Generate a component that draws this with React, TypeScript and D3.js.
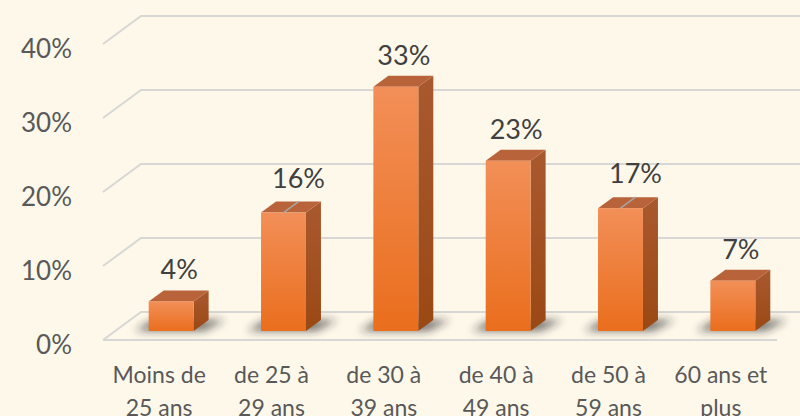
import React from "react";
import * as d3 from "d3";

const categories = [
  ["Moins de", "25 ans"],
  ["de 25 à", "29 ans"],
  ["de 30 à", "39 ans"],
  ["de 40 à", "49 ans"],
  ["de 50 à", "59 ans"],
  ["60 ans et", "plus"],
];
const values = [0.04, 0.16, 0.33, 0.23, 0.166, 0.068];
const yTicks = [0, 0.1, 0.2, 0.3, 0.4];
// bars whose label sits on a leader line
const leaderIdx = [1, 4];

const W = 800;
const H = 416;
// back wall plane
const backLeft = 141;
const backRight = 815;
// offset from back wall to front of floor
const depthX = -38;
const depthY = 28;
// bar front / back planes (offset from back wall)
const barFrontX = -26;
const barFrontY = 19;
const barBackX = -11;
const barBackY = 8;

const font = "Lato, 'Open Sans', sans-serif";

const App = () => {
  const y = d3.scaleLinear().domain([0, 0.4]).range([312, 16]);
  const x = d3
    .scaleBand<number>()
    .domain(d3.range(categories.length))
    .range([backLeft, backRight])
    .paddingInner(0.6)
    .paddingOuter(0.3);
  const fmt = d3.format(".0%");
  const bw = x.bandwidth();

  return (
    <svg
      width={W}
      height={H}
      style={{ position: "absolute", left: 0, top: 0, display: "block" }}
    >
      <defs>
        <linearGradient id="front" x1="0" y1="0" x2="0" y2="1">
          <stop offset="0%" stopColor="#F28F58" />
          <stop offset="100%" stopColor="#EA6E1D" />
        </linearGradient>
        <linearGradient id="side" x1="0" y1="0" x2="0" y2="1">
          <stop offset="0%" stopColor="#A9592F" />
          <stop offset="100%" stopColor="#9A4914" />
        </linearGradient>
        <filter id="blur" x="-50%" y="-100%" width="200%" height="300%">
          <feGaussianBlur stdDeviation="4" />
        </filter>
      </defs>
      <rect width={W} height={H} fill="#FEF8EB" />

      {/* gridlines */}
      {yTicks.map((t) => {
        const yb = y(t);
        const front = t === 0;
        return (
          <g key={t} fill="none" stroke="#D7D7D5" strokeWidth={2}>
            <polyline
              points={`${backLeft + depthX},${yb + depthY} ${backLeft},${yb} ${backRight},${yb}`}
            />
            {front && (
              <line
                x1={backLeft + depthX}
                x2={backRight + depthX}
                y1={yb + depthY}
                y2={yb + depthY}
              />
            )}
          </g>
        );
      })}

      {/* y labels */}
      {yTicks.map((t) => (
        <text
          key={t}
          x={72}
          y={y(t) + depthY + 4}
          textAnchor="end"
          dominantBaseline="central"
          fontFamily={font}
          fontSize={26}
          fill="#595959"
        >
          {fmt(t)}
        </text>
      ))}

      {/* shadows */}
      {values.map((v, i) => {
        const x0 = x(i)! + barFrontX;
        const yf = y(0) + barFrontY;
        const yb = y(0) + barBackY;
        return (
          <polygon
            key={i}
            points={`${x0 - 14},${yf} ${x0 + bw + 10},${yf} ${x0 + bw + 32},${yb} ${x0 + 4},${yb}`}
            fill="#1a1a1a"
            opacity={0.6}
            filter="url(#blur)"
          />
        );
      })}

      {/* bars */}
      {values.map((v, i) => {
        const x0 = x(i)! + barFrontX;
        const x1 = x0 + bw;
        const dx = barBackX - barFrontX;
        const dy = barBackY - barFrontY;
        const yTop = y(v) + barFrontY;
        const yBot = y(0) + barFrontY;
        return (
          <g key={i}>
            <polygon
              points={`${x1},${yTop} ${x1 + dx},${yTop + dy} ${x1 + dx},${yBot + dy} ${x1},${yBot}`}
              fill="url(#side)"
            />
            <polygon
              points={`${x0},${yTop} ${x0 + dx},${yTop + dy} ${x1 + dx},${yTop + dy} ${x1},${yTop}`}
              fill="#B8633A"
            />
            <rect x={x0} y={yTop} width={bw} height={yBot - yTop} fill="url(#front)" />
          </g>
        );
      })}

      {/* data labels */}
      {values.map((v, i) => {
        const cx = x(i)! + barFrontX + bw / 2;
        const yTop = y(v) + barFrontY;
        const topBack = yTop + barBackY - barFrontY;
        const leader = leaderIdx.includes(i);
        return (
          <g key={i}>
            {leader && (
              <line
                x1={cx}
                y1={yTop}
                x2={cx + 15}
                y2={yTop - 11}
                stroke="#A6A6A6"
                strokeWidth={1.5}
              />
            )}
            <text
              x={cx + (leader ? 15 : 8)}
              y={topBack - (leader ? 14 : 11)}
              textAnchor="middle"
              fontFamily={font}
              fontSize={27}
              fill="#404040"
            >
              {fmt(v)}
            </text>
          </g>
        );
      })}

      {/* category labels */}
      {categories.map((lines, i) => {
        const cx = x(i)! + bw / 2 + depthX;
        return (
          <text
            key={i}
            textAnchor="middle"
            fontFamily={font}
            fontSize={23}
            fill="#595959"
          >
            {lines.map((l, k) => (
              <tspan key={k} x={cx} y={374 + k * 33} dominantBaseline="central">
                {l}
              </tspan>
            ))}
          </text>
        );
      })}
    </svg>
  );
};

export default App;
